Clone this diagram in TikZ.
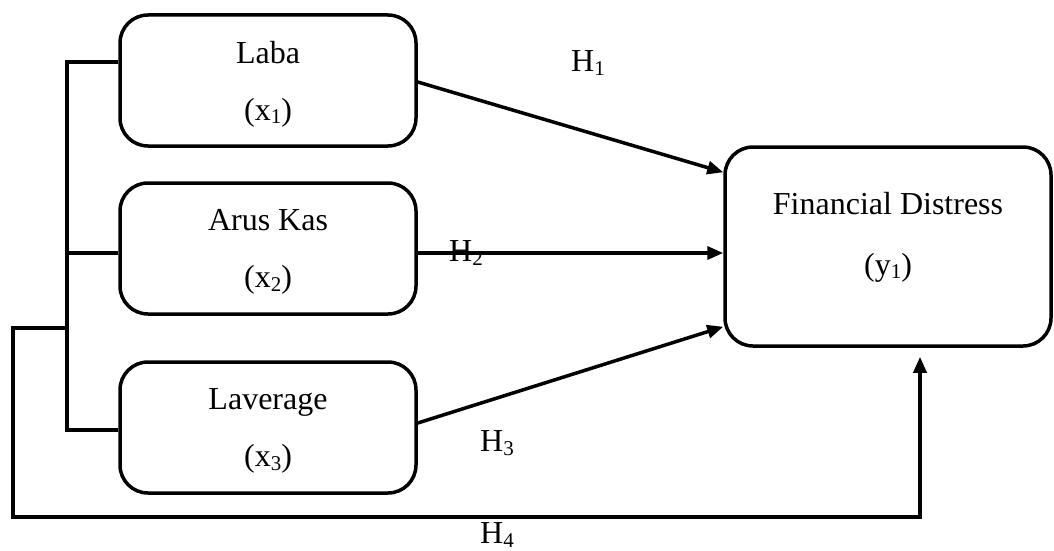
\documentclass[tikz,border=0pt]{standalone}
\usepackage{fontspec}
\setmainfont{Liberation Serif}
\usetikzlibrary{arrows.meta, positioning, calc}
\newcommand\lowsub[1]{\raisebox{-0.12em}{\fontsize{21}{21}\selectfont #1}}
\tikzset{
  every picture/.style={x=1pt, y=-1pt, line width=3.5pt},
  box/.style={draw=black, rounded corners=28pt, align=center, inner sep=0pt,
    font=\fontsize{32}{61}\selectfont},
  arrow/.style={-{Triangle[length=16pt, width=13pt]}, draw=black, line width=3.5pt},
  hyp/.style={font=\fontsize{32}{38}\selectfont, inner sep=0pt},
}

\begin{document}
\begin{tikzpicture}[
  var/.style={box, minimum width=296pt, minimum height=131pt,
    font=\fontsize{32}{57}\selectfont, text depth=0pt},
  dep/.style={box, minimum width=326pt, minimum height=199pt, text depth=26pt}]
  \useasboundingbox (0,0) rectangle (1054,551);
  % variables
  \node[var] (laba) at (268,80.5) {Laba\\(x\lowsub{1})};
  \node[var] (arus) at (268,248.5) {Arus Kas\\(x\lowsub{2})};
  \node[var] (lev) at (268,427.5) {Laverage\\(x\lowsub{3})};
  \node[dep] (fd) at (888,246.5) {Financial Distress\\(y\lowsub{1})};
  % bracket on the left
  \coordinate (bt) at (67,62);
  \coordinate (bb) at (67,430);
  \coordinate (bm) at (67,328);
  \coordinate (lo) at (13,517);
  \coordinate (up) at (920,517);
  \draw (bt -| laba.west) -- (bt) -- (bb) -- (bb -| lev.west);
  \draw ([yshift=-4.5pt]bt |- arus.west) -- ([yshift=-4.5pt]arus.west);
  % hypotheses
  \draw[arrow] ([yshift=-1.5pt]laba.east) -- ([yshift=-27pt]fd.north west);
  \draw[arrow] ([yshift=-4.5pt]arus.east) -- ([yshift=-4.5pt]arus.east -| fd.west);
  \draw[arrow] ([yshift=4.5pt]lev.east) -- ([yshift=21pt]fd.south west);
  \draw[arrow, shorten >=9pt] (bm) -| (lo) -- (up) -- (up |- fd.south);
  \node[hyp] (h1) at (588,63) {H\lowsub{1}};
  \node[hyp] (h2) at (466,253) {H\lowsub{2}};
  \node[hyp] (h3) at (497,443) {H\lowsub{3}};
  \node[hyp] (h4) at (497,535) {H\lowsub{4}};
\end{tikzpicture}
\end{document}
